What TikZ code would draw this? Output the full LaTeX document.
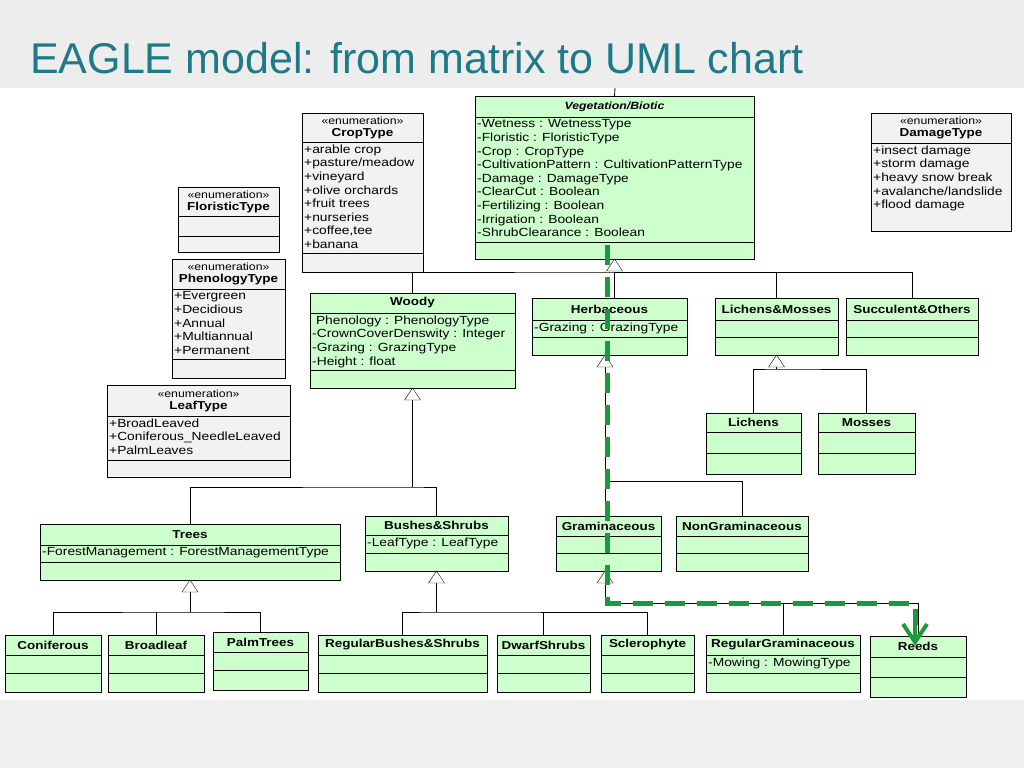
\documentclass[tikz,border=0pt]{standalone}
\usepackage{fontspec}
\setmainfont{Liberation Sans}
\newfontfamily\umlfont{Liberation Sans}[FakeStretch=1.17]
\usetikzlibrary{calc}
\definecolor{umlgreen}{HTML}{CCFFCC}
\definecolor{umlgray}{HTML}{F2F2F2}
\definecolor{titleteal}{HTML}{1F7A88}
\definecolor{pathgreen}{HTML}{1A9A3A}
% \cls{name}{x1}{y1}{x2}{y2}{y header}{y mid}{fill}{title}{attributes}
\newcommand{\cls}[9]{%
  \node[box,fill=#8,minimum width=#4-#2,minimum height=#5-#3,anchor=north west] (#1) at (#2,#3) {};
  \draw (#2,#6) -- (#4,#6) (#2,#7) -- (#4,#7);
  \node[ttl] (#1-t) at ({(#2+#4)/2},{(#3+#6)/2}) {#9};
  \clsattr{#1}{#2}{#6}}
\newcommand{\clsattr}[4]{\node[att,anchor=north west] (#1-a) at (#2+1,#3+1.5) {#4};}
\newcommand{\gen}[1]{\draw[fill=white] (#1.south) -- ++(-8,12) -- ++(16,0) -- cycle;}
\newcommand{\enum}[1]{{\fontsize{10.5}{11.5}\selectfont\mdseries «enumeration»}\\#1}
\begin{document}
\begin{tikzpicture}[x=1pt,y=-1pt,
  box/.style={draw,line width=0.8pt,inner sep=0pt,outer sep=0pt},
  ttl/.style={font=\umlfont\fontsize{11.5}{12}\selectfont\bfseries,inner sep=0pt,align=center},
  att/.style={font=\umlfont\fontsize{11.8}{13.6}\selectfont,inner sep=1pt,align=left},
  line/.style={line width=0.8pt}]
\useasboundingbox (0,0) rectangle (1024,768);
\fill[gray!14] (0,0) rectangle (1024,88);
\fill[white] (0,88) rectangle (1024,700);
\fill[gray!12] (0,700) rectangle (1024,768);
\node[anchor=base west,inner sep=0pt,text=titleteal,font=\fontsize{43}{45}\selectfont] (title) at (30,74) {EAGLE model: from matrix to UML chart};

% enumerations
\cls{crop}{302}{113}{423}{272}{142}{253}{umlgray}{\enum{CropType}}{+arable crop\\+pasture/meadow\\+vineyard\\+olive orchards\\+fruit trees\\+nurseries\\+coffee,tee\\+banana}
\cls{flor}{178}{187}{279}{252}{216}{236}{umlgray}{\enum{FloristicType}}{}
\cls{phen}{172}{259}{285}{378}{289}{359}{umlgray}{\enum{PhenologyType}}{+Evergreen\\+Decidious\\+Annual\\+Multiannual\\+Permanent}
\cls{leaf}{107}{385}{290}{477}{416}{460}{umlgray}{\enum{LeafType}}{+BroadLeaved\\+Coniferous\_NeedleLeaved\\+PalmLeaves}
\cls{dmg}{871}{113}{1011}{231}{143}{231}{umlgray}{\enum{DamageType}}{+insect damage\\+storm damage\\+heavy snow break\\+avalanche/landslide\\+flood damage}

% classes
\cls{veg}{475}{96}{754}{259}{117}{242}{umlgreen}{\itshape\fontsize{10.5}{11}\selectfont Vegetation/Biotic}{-Wetness : WetnessType\\-Floristic : FloristicType\\-Crop : CropType\\-CultivationPattern : CultivationPatternType\\-Damage : DamageType\\-ClearCut : Boolean\\-Fertilizing : Boolean\\-Irrigation : Boolean\\-ShrubClearance : Boolean}
\cls{woody}{310}{293}{515}{388}{313}{370}{umlgreen}{Woody}{~Phenology : PhenologyType\\-CrownCoverDenswity : Integer\\-Grazing : GrazingType\\-Height : float}
\cls{herb}{532}{298}{687}{355}{320}{337}{umlgreen}{Herbaceous}{-Grazing : GrazingType}
\cls{lm}{715}{298}{838}{355}{320}{337}{umlgreen}{Lichens\&Mosses}{}
\cls{succ}{846}{298}{978}{355}{320}{337}{umlgreen}{Succulent\&Others}{}
\cls{lich}{706}{413}{801}{474}{432}{453}{umlgreen}{Lichens}{}
\cls{moss}{818}{413}{915}{474}{432}{453}{umlgreen}{Mosses}{}
\cls{trees}{40}{524}{340}{580}{545}{562}{umlgreen}{Trees}{-ForestManagement : ForestManagementType}
\cls{bush}{365}{516}{508}{571}{535}{553}{umlgreen}{Bushes\&Shrubs}{-LeafType : LeafType}
\cls{gram}{556}{516}{661}{571}{536}{553}{umlgreen}{Graminaceous}{}
\cls{ngram}{676}{516}{808}{571}{536}{553}{umlgreen}{NonGraminaceous}{}
\cls{conif}{5}{635}{101}{692}{655}{673}{umlgreen}{Coniferous}{}
\cls{broad}{108}{635}{204}{692}{655}{673}{umlgreen}{Broadleaf}{}
\cls{palm}{213}{632}{308}{690}{652}{670}{umlgreen}{PalmTrees}{}
\cls{rbush}{318}{635}{487}{692}{655}{673}{umlgreen}{RegularBushes\&Shrubs}{}
\cls{dwarf}{497}{635}{590}{692}{655}{673}{umlgreen}{DwarfShrubs}{}
\cls{scler}{601}{635}{694}{692}{655}{673}{umlgreen}{Sclerophyte}{}
\cls{rgram}{706}{635}{860}{692}{655}{673}{umlgreen}{RegularGraminaceous}{-Mowing : MowingType}
\cls{reeds}{870}{636}{966}{697}{657}{677}{umlgreen}{Reeds}{}

% generalisation trees
\coordinate (vtop) at (615,88);
\draw[line] (vtop) -- (veg.north);
\coordinate (vj) at (veg.south |- 0,272);
\draw[line] (woody.north) |- (vj) -| (succ.north);
\draw[line] (vj) -| (lm.north);
\draw[line] (vj) -- (herb.north -| vj);
\gen{veg}
\coordinate (lj) at (lm.south |- 0,369);
\draw[line] (lich.north) |- (lj) -| (moss.north);
\draw[line] (lm.south) -- (lj);
\gen{lm}
\coordinate (hj) at (605,481);
\draw[line] (605,355) -- (hj) -| (ngram.north);
\draw[line] (hj) -- (605,516);
\draw[fill=white] (605,355) -- ++(-8,12) -- ++(16,0) -- cycle;
\coordinate (gj) at (605,603);
\draw[line] (605,571) -- (gj) -| (reeds.north);
\draw[line] (gj) -| (rgram.north);
\draw[fill=white] (605,571) -- ++(-8,12) -- ++(16,0) -- cycle;
\coordinate (wj) at (woody.south |- 0,487);
\draw[line] (woody.south) -- (wj);
\draw[line] (trees.north) |- (wj) -| (bush.north);
\gen{woody}
\coordinate (tj) at (trees.south |- 0,612);
\draw[line] (trees.south) -- (tj);
\draw[line] (conif.north) |- (tj) -| (palm.north);
\draw[line] (broad.north) -- (broad.north |- tj);
\gen{trees}
\coordinate (bj) at (bush.south |- 0,612);
\draw[line] (bush.south) -- (bj);
\draw[line] (rbush.north) |- (bj) -| (scler.north);
\draw[line] (dwarf.north) -- (dwarf.north |- bj);
\gen{bush}

% highlighted path
\coordinate (p1) at (607,245);
\coordinate (p2) at (607,603);
\coordinate (p3) at (915,603);
\coordinate (p4) at (915,642);
\draw[pathgreen,line width=5pt,dash pattern=on 20pt off 12pt] (p1) -- (p2) -- (p3) -- (915,625);
\draw[pathgreen,line width=4pt] (915,622) -- (p4) (903,624) -- (p4) -- (927,624);
\end{tikzpicture}
\end{document}
